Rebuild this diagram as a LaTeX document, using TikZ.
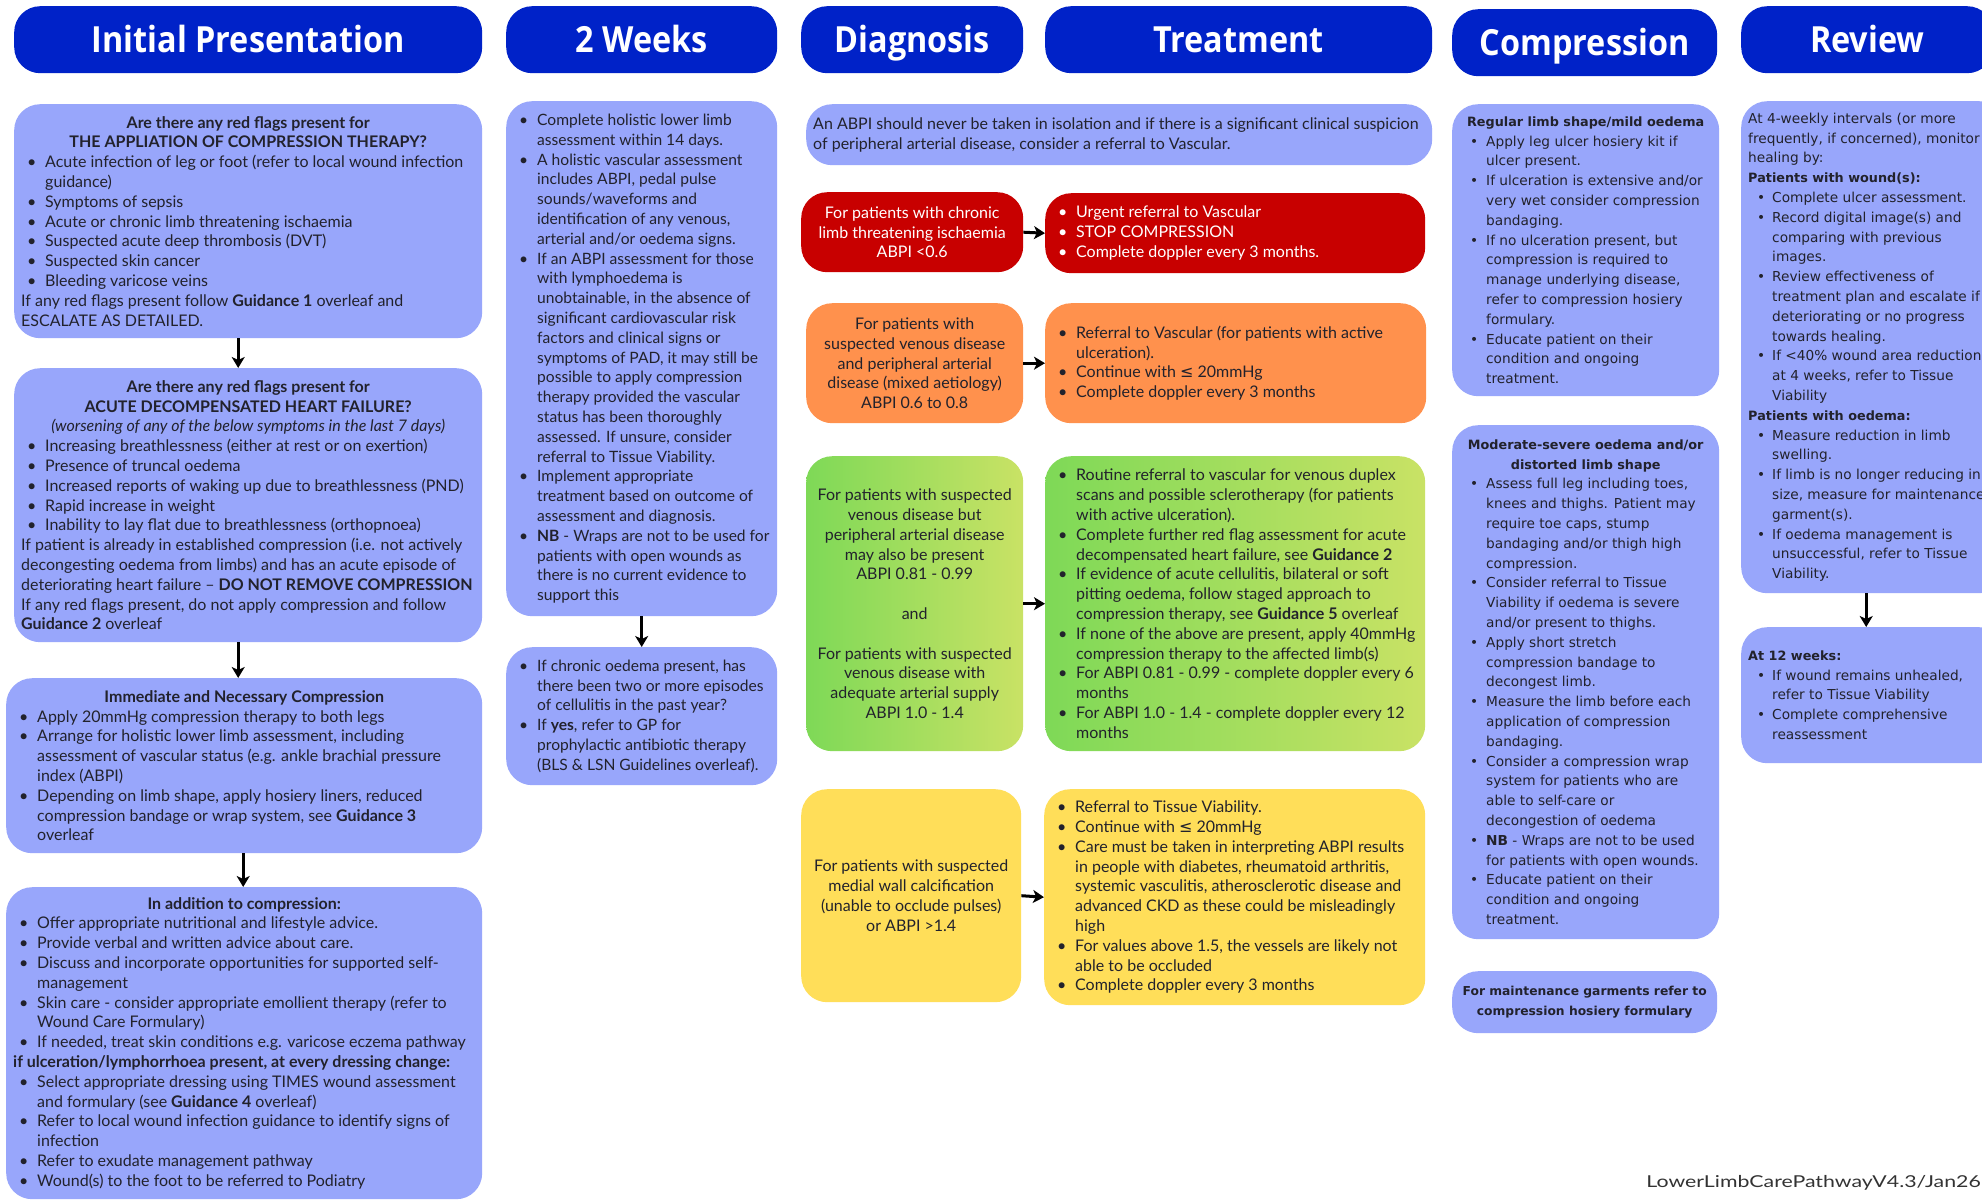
\documentclass[tikz,border=0pt]{standalone}
\usepackage{fontspec}
\setmainfont{Lato}
\newfontfamily\headfont{Open Sans}[FakeStretch=0.9]
\newfontfamily\footfont{Lato}[FakeStretch=1.3]
\newfontfamily\widefont{DejaVu Sans}
\newfontfamily\symfont{DejaVu Sans}
\usetikzlibrary{arrows.meta}
\definecolor{hblue}{RGB}{0,34,200}
\definecolor{lblue}{RGB}{152,166,251}
\definecolor{rred}{RGB}{200,0,0}
\definecolor{oorange}{RGB}{255,145,77}
\definecolor{yyellow}{RGB}{255,222,89}
\definecolor{gleft}{RGB}{126,217,87}
\definecolor{gright}{RGB}{201,226,101}
\definecolor{tcol}{RGB}{34,34,44}
\newlength\bpos \newlength\bind
\setlength\bpos{6pt}\setlength\bind{24pt}
\newcommand\bl{\par\hangindent=\bind\hangafter=1\noindent\hbox to\bind{\hskip\bpos\textbullet\hss}\ignorespaces}
\newcommand\pl{\par\noindent\ignorespaces}
\newcommand\hd[1]{\par{\let\\\par\leftskip=0pt plus 1fil\rightskip=40pt plus 1fil\parfillskip=0pt\noindent\bfseries #1\par}}
\newcommand\hdi[1]{\par{\let\\\par\leftskip=0pt plus 1fil\rightskip=40pt plus 1fil\parfillskip=0pt\noindent\itshape #1\par}}
\newcommand\tb[2]{\makebox[#1][l]{\parbox{\dimexpr#1+40pt\relax}{\selectfont\raggedright\let\\\newline #2\par}}}
\newcommand\lte{{\symfont\char"2264}}
\newcommand\bodyfont{\fontsize{16}{19.8}\selectfont}
\newcommand\weekfont{\fontsize{15.6}{19.8}\selectfont}
\newcommand\widebody{\widefont\fontsize{13.7}{19.8}\selectfont}
\newcommand\wbs{\fontsize{12.8}{19.8}\selectfont}
\tikzset{
 base/.style={anchor=north west, inner xsep=7pt, inner ysep=2pt, text=tcol, font=\bodyfont, rounded corners=26pt},
 lbox/.style={base, fill=lblue},
 cbox/.style={base, align=center},
 hdr/.style={anchor=north west, fill=hblue, rounded corners=26pt, inner sep=0pt, minimum height=67pt, text height=29pt, text depth=4pt, text=white, font=\headfont\bfseries\fontsize{36}{40}\selectfont},
 arr/.style={line width=3pt, -{Stealth[length=11pt,width=13pt,inset=3pt]}},
}
\begin{document}
\begin{tikzpicture}[x=1pt,y=-1pt]
\useasboundingbox (0,0) rectangle (1982,1200);
\clip (0,0) rectangle (1982,1200);
\fill[white] (0,0) rectangle (1982,1200);
% headers
\node[hdr, minimum width=468pt] (h1) at (14,6) {Initial Presentation};
\node[hdr, minimum width=271pt] (h2) at (506,6) {2 Weeks};
\node[hdr, minimum width=222pt] (h3) at (801,6) {Diagnosis};
\node[hdr, minimum width=387pt] (h4) at (1045,6) {Treatment};
\node[hdr, minimum width=265pt] (h5) at (1452,9) {Compression};
\node[hdr, minimum width=252pt] (h6) at (1741,6) {Review};
% column 1
\node[lbox, minimum width=468pt, minimum height=234pt] (a1) at (14,104) {\tb{454pt}{%
\hd{Are there any red flags present for\\THE APPLIATION OF COMPRESSION THERAPY?}
\bl Acute infection of leg or foot (refer to local wound infection\\guidance)
\bl Symptoms of sepsis
\bl Acute or chronic limb threatening ischaemia
\bl Suspected acute deep thrombosis (DVT)
\bl Suspected skin cancer
\bl Bleeding varicose veins
\pl If any red flags present follow \textbf{Guidance 1} overleaf and\\ESCALATE AS DETAILED.}};
\node[lbox, minimum width=468pt, minimum height=274pt] (a2) at (14,368) {\tb{454pt}{%
\hd{Are there any red flags present for\\ACUTE DECOMPENSATED HEART FAILURE?}
\hdi{(worsening of any of the below symptoms in the last 7 days)}
\bl Increasing breathlessness (either at rest or on exertion)
\bl Presence of truncal oedema
\bl Increased reports of waking up due to breathlessness (PND)
\bl Rapid increase in weight
\bl Inability to lay flat due to breathlessness (orthopnoea)
\pl If patient is already in established compression (i.e. not actively\\decongesting oedema from limbs) and has an acute episode of\\deteriorating heart failure -- \textbf{DO NOT REMOVE COMPRESSION}
\pl If any red flags present, do not apply compression and follow\\\textbf{Guidance 2} overleaf}};
\node[lbox, minimum width=476pt, minimum height=175pt] (a3) at (6,678) {\tb{462pt}{%
\hd{Immediate and Necessary Compression}
\bl Apply 20mmHg compression therapy to both legs
\bl Arrange for holistic lower limb assessment, including\\assessment of vascular status (e.g. ankle brachial pressure\\index (ABPI)
\bl Depending on limb shape, apply hosiery liners, reduced\\compression bandage or wrap system, see \textbf{Guidance 3}\\overleaf}};
\node[lbox, minimum width=476pt, minimum height=312pt] (a4) at (6,887) {\tb{462pt}{%
\hd{In addition to compression:}
\bl Offer appropriate nutritional and lifestyle advice.
\bl Provide verbal and written advice about care.
\bl Discuss and incorporate opportunities for supported self-\\management
\bl Skin care - consider appropriate emollient therapy (refer to\\Wound Care Formulary)
\bl If needed, treat skin conditions e.g. varicose eczema pathway
\pl\textbf{if ulceration/lymphorrhoea present, at every dressing change:}
\bl Select appropriate dressing using TIMES wound assessment\\and formulary (see \textbf{Guidance 4} overleaf)
\bl Refer to local wound infection guidance to identify signs of\\infection
\bl Refer to exudate management pathway
\bl Wound(s) to the foot to be referred to Podiatry}};
% column 2
\node[lbox, font=\weekfont, minimum width=271pt, minimum height=515pt] (w1) at (506,101) {\tb{257pt}{%
\bl Complete holistic lower limb\\assessment within 14 days.
\bl A holistic vascular assessment\\includes ABPI, pedal pulse\\sounds/waveforms and\\identification  of any venous,\\arterial and/or oedema signs.
\bl If an ABPI assessment for those\\with lymphoedema is\\unobtainable,  in the absence of\\significant cardiovascular risk\\factors and clinical signs or\\symptoms of PAD, it may still be\\possible to apply compression\\therapy provided the vascular\\status has been thoroughly\\assessed. If unsure, consider\\referral to Tissue Viability.
\bl Implement appropriate\\treatment based on outcome of\\assessment and diagnosis.
\bl \textbf{NB} - Wraps are not to be used for\\patients with open wounds as\\there is no current evidence to\\support this}};
\node[lbox, font=\weekfont, minimum width=271pt, minimum height=138pt] (w2) at (506,647) {\tb{257pt}{%
\bl If chronic oedema present, has\\there been two or more episodes\\of cellulitis in the past year?
\bl If \textbf{yes}, refer to GP for\\prophylactic antibiotic therapy\\(BLS \& LSN Guidelines overleaf).}};
% diagnosis / treatment
\node[lbox, minimum width=626pt, minimum height=61pt] (dtop) at (806,104) {\tb{612pt}{%
\pl An ABPI should never be taken in isolation and if there is a significant clinical suspicion\\of peripheral arterial disease, consider a referral to Vascular.}};
\node[cbox, fill=rred, text=white, minimum width=222pt, minimum height=80pt] (rl) at (801,192) {For patients with chronic\\limb threatening ischaemia\\ABPI <0.6};
\node[base, fill=rred, text=white, minimum width=380pt, minimum height=80pt] (rr) at (1045,193) {\tb{366pt}{%
\bl Urgent referral to Vascular
\bl STOP COMPRESSION
\bl Complete doppler every 3 months.}};
\node[cbox, fill=oorange, minimum width=217pt, minimum height=120pt] (ol) at (806,303) {For patients with\\suspected venous disease\\and peripheral arterial\\disease (mixed aetiology)\\ABPI 0.6 to 0.8};
\node[base, fill=oorange, minimum width=381pt, minimum height=120pt] (orr) at (1045,303) {\tb{367pt}{%
\bl Referral to Vascular (for patients with active\\ulceration).
\bl Continue with \lte\ 20mmHg
\bl Complete doppler every 3 months}};
\node[cbox, left color=gleft, right color=gright, minimum width=217pt, minimum height=295pt] (gl) at (806,456) {For patients with suspected\\venous disease but\\peripheral arterial disease\\may also be present\\ABPI 0.81 - 0.99\\[19.8pt]and\\[19.8pt]For patients with suspected\\venous disease with\\adequate arterial supply\\ABPI 1.0 - 1.4};
\node[base, left color=gleft, right color=gright, minimum width=380pt, minimum height=295pt] (gr) at (1045,456) {\tb{366pt}{%
\bl Routine referral to vascular for venous duplex\\scans and possible sclerotherapy (for patients\\with active ulceration).
\bl Complete further red flag assessment for acute\\decompensated heart failure, see \textbf{Guidance 2}
\bl If evidence of acute cellulitis, bilateral or soft\\pitting oedema, follow staged approach to\\compression therapy, see \textbf{Guidance 5} overleaf
\bl If none of the above are present, apply 40mmHg\\compression therapy to the affected limb(s)
\bl For ABPI 0.81 - 0.99 - complete doppler every 6\\months
\bl For ABPI 1.0 - 1.4 - complete doppler every 12\\months}};
\node[cbox, fill=yyellow, minimum width=220pt, minimum height=213pt] (yl) at (801,789) {For patients with suspected\\medial wall calcification\\(unable to occlude pulses)\\or ABPI >1.4};
\node[base, fill=yyellow, minimum width=381pt, minimum height=216pt] (yr) at (1044,789) {\tb{367pt}{%
\bl Referral to Tissue Viability.
\bl Continue with \lte\ 20mmHg
\bl Care must be taken in interpreting ABPI results\\in people with diabetes, rheumatoid arthritis,\\systemic vasculitis, atherosclerotic disease and\\advanced CKD as these could be misleadingly\\high
\bl For values above 1.5, the vessels are likely not\\able to be occluded
\bl Complete doppler every 3 months}};
% compression
\node[lbox, font=\widebody, minimum width=267pt, minimum height=292pt] (c1) at (1452,104) {\tb{253pt}{%
\setlength\bpos{11pt}\setlength\bind{27pt}%
\hd{\wbs Regular limb shape/mild oedema}
\bl Apply leg ulcer hosiery kit if\\ulcer present.
\bl If ulceration is extensive and/or\\very wet consider compression\\bandaging.
\bl If no ulceration present, but\\compression is required to\\manage underlying disease,\\refer to compression hosiery\\formulary.
\bl Educate patient on their\\condition and ongoing\\treatment.}};
\node[lbox, font=\widebody, minimum width=267pt, minimum height=514pt] (c2) at (1452,425) {\tb{253pt}{%
\setlength\bpos{11pt}\setlength\bind{27pt}%
\hd{\wbs Moderate-severe oedema and/or\\distorted limb shape}
\bl Assess full leg including toes,\\knees and thighs. Patient may\\require toe caps, stump\\bandaging and/or thigh high\\compression.
\bl Consider referral to Tissue\\Viability if oedema is severe\\and/or present to thighs.
\bl Apply short stretch\\compression bandage to\\decongest limb.
\bl Measure the limb before each\\application of compression\\bandaging.
\bl Consider a  compression wrap\\system for patients who are\\able to self-care or\\decongestion of oedema
\bl \textbf{NB} - Wraps are not to be used\\for patients with open wounds.
\bl Educate patient on their\\condition and ongoing\\treatment.}};
\node[cbox, fill=lblue, font=\widefont\fontsize{12.3}{19.8}\selectfont\bfseries, minimum width=265pt, minimum height=62pt] (c3) at (1452,971) {For maintenance garments refer to\\compression hosiery formulary};
% review
\node[lbox, font=\widebody, minimum width=264pt, minimum height=492pt] (r1) at (1741,101) {\tb{250pt}{%
\setlength\bpos{9pt}\setlength\bind{24pt}%
\pl At 4-weekly intervals (or more\\frequently, if concerned), monitor\\healing by:
\pl{\wbs\bfseries Patients with wound(s):}
\bl Complete ulcer assessment.
\bl Record digital image(s) and\\comparing with previous\\images.
\bl Review effectiveness of\\treatment plan and escalate if\\deteriorating or no progress\\towards healing.
\bl If <40\% wound area reduction\\at 4 weeks, refer to Tissue\\Viability
\pl{\wbs\bfseries Patients with oedema:}
\bl Measure reduction in limb\\swelling.
\bl If limb is no longer reducing in\\size, measure for maintenance\\garment(s).
\bl If oedema management is\\unsuccessful, refer to Tissue\\Viability.}};
\node[lbox, font=\widebody, minimum width=264pt, minimum height=136pt] (r2) at (1741,627) {\tb{250pt}{%
\setlength\bpos{9pt}\setlength\bind{24pt}%
\pl{\wbs\bfseries At 12 weeks:}
\bl If wound remains unhealed,\\refer to Tissue Viability
\bl Complete comprehensive\\reassessment}};
% footer
\node[anchor=base east, inner sep=0pt, text=black!80, font=\footfont\fontsize{16.4}{20}\selectfont] (ft) at (1981,1187) {LowerLimbCarePathwayV4.3/Jan26};
% arrows
\draw[arr] ([xshift=-10pt]a1.south) -- ([xshift=-10pt]a2.north);
\draw[arr] ([xshift=-10pt]a2.south) -- ([xshift=-6pt]a3.north);
\draw[arr] ([xshift=-1pt]a3.south) -- ([xshift=-1pt]a4.north);
\draw[arr] (w1.south) -- (w2.north);
\draw[arr] ([xshift=-7pt]r1.south) -- ([xshift=-7pt]r2.north);
\draw[arr] (rl.east) -- (rr.west);
\draw[arr] (ol.east) -- (orr.west);
\draw[arr] (gl.east) -- (gr.west);
\draw[arr] (yl.east) -- (yr.west);
\end{tikzpicture}
\end{document}
